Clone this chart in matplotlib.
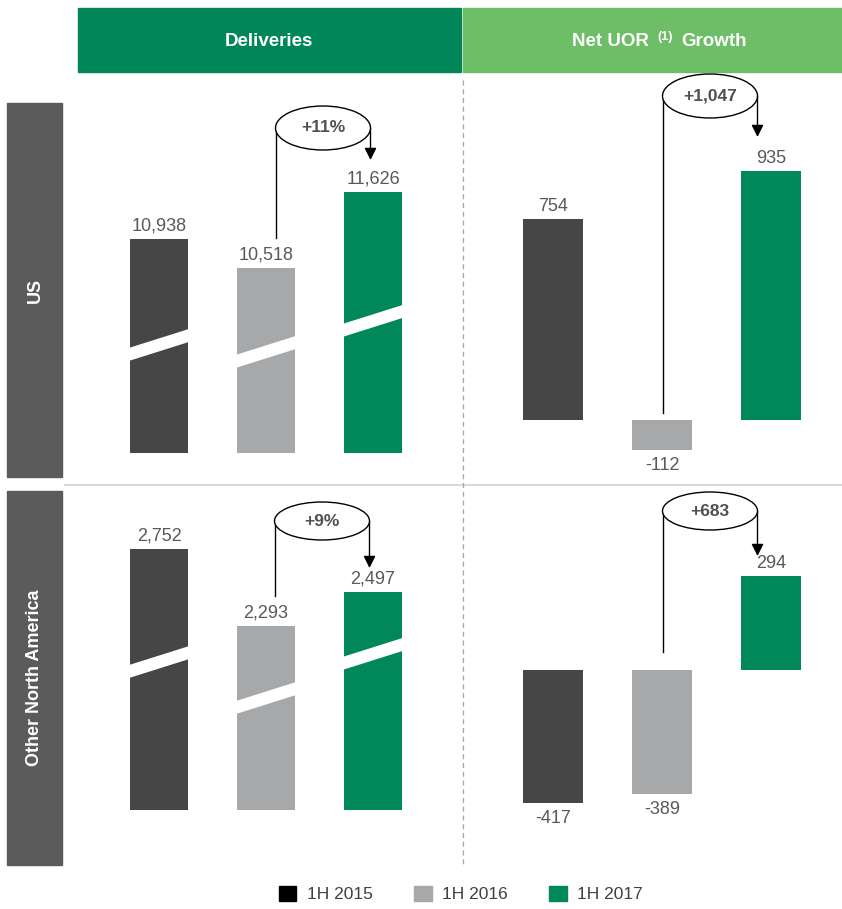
import matplotlib
matplotlib.use('Agg')
import matplotlib.pyplot as plt
import numpy as np
from matplotlib.patches import Rectangle, Ellipse, Polygon, Patch

plt.rcParams['font.family'] = ['Liberation Sans Narrow', 'Liberation Sans', 'DejaVu Sans']

# data
periods = ['1H 2015', '1H 2016', '1H 2017']
us_deliveries = [10938, 10518, 11626]
ona_deliveries = [2752, 2293, 2497]
us_uor = [754, -112, 935]
ona_uor = [-417, -389, 294]

bar_colors = ['#464646', '#a7a8aa', '#00875a']
legend_colors = ['#000000', '#a7a8aa', '#00875a']
label_color = '#595959'

W, H = 842, 909
fig = plt.figure(figsize=(W / 100, H / 100), dpi=100)

# overlay in pixel coordinates for the slide decoration
ov = fig.add_axes([0, 0, 1, 1])
ov.set_xlim(0, W)
ov.set_ylim(H, 0)
ov.axis('off')


def px_axes(x0, y0, x1, y1):
    ax = fig.add_axes([x0 / W, 1 - y1 / H, (x1 - x0) / W, (y1 - y0) / H])
    ax.axis('off')
    return ax


def panel(box, base_px, base_val, k, c0, step, width, vals, breaks=None):
    x0, y0, x1, y1 = box
    ax = px_axes(x0, y0, x1, y1)
    ax.set_xlim((x0 - c0) / step, (x1 - c0) / step)
    ax.set_ylim(base_val - (y1 - base_px) / k, base_val + (base_px - y0) / k)
    w = width / step
    idx = np.arange(len(vals))
    v = np.array(vals, dtype=float)
    ax.bar(idx, v - base_val, bottom=base_val, width=w, color=bar_colors)
    for i, val in enumerate(vals):
        if val >= 0:
            ax.annotate(f'{val:,}', (i, val), xytext=(0, 3), textcoords='offset points',
                        ha='center', va='bottom', fontsize=13, color=label_color)
        else:
            ax.annotate(f'{val:,}', (i, val), xytext=(0, -5), textcoords='offset points',
                        ha='center', va='top', fontsize=13, color=label_color)
    # axis break marks
    if breaks is not None:
        rise = 19 / k
        thick = 13 / k
        for i, f in enumerate(breaks):
            c = base_val + f * (vals[i] - base_val)
            xl, xr = i - w / 2 - 0.01, i + w / 2 + 0.01
            ax.add_patch(Polygon([(xl, c - rise / 2 - thick / 2), (xr, c + rise / 2 - thick / 2),
                                  (xr, c + rise / 2 + thick / 2), (xl, c - rise / 2 + thick / 2)],
                                 closed=True, facecolor='white', edgecolor='none', zorder=3))
    return ax


panel((78, 80, 461, 477), 453, 7818, 0.0686, 159, 107, 58, us_deliveries, [0.505, 0.546, 0.506])
panel((78, 490, 461, 865), 810, 1197, 0.1678, 159, 107, 58, ona_deliveries, [0.567, 0.609, 0.716])
panel((463, 80, 842, 477), 420, 0, 0.2663, 553, 109, 60, us_uor)
panel((463, 490, 842, 865), 670, 0, 0.3197, 553, 109, 60, ona_uor)

# headers
ov.add_patch(Rectangle((78, 8), 383, 64, color='#008659', zorder=1))
ov.add_patch(Rectangle((463, 8), 379, 64, color='#6dbe66', zorder=1))
ov.text(269, 41, 'Deliveries', ha='center', va='center', color='white',
        fontsize=13.5, fontweight='bold')
ov.text(649, 41, 'Net UOR', ha='right', va='center', color='white', fontsize=13.5, fontweight='bold')
ov.text(665, 37, '(1)', ha='center', va='center', color='white', fontsize=9, fontweight='bold')
ov.text(681, 41, 'Growth', ha='left', va='center', color='white', fontsize=13.5, fontweight='bold')

# row labels
ov.add_patch(Rectangle((7, 103), 55, 374, color='#5b5b5c'))
ov.add_patch(Rectangle((7, 491), 55, 374, color='#5b5b5c'))
ov.text(35, 290, 'US', rotation=90, ha='center', va='center', color='white',
        fontsize=13, fontweight='bold', family=['Liberation Sans', 'DejaVu Sans'])
ov.text(35, 678, 'Other North America', rotation=90, ha='center', va='center', color='white',
        fontsize=13, fontweight='bold', family=['Liberation Sans', 'DejaVu Sans'])

# separators
ov.plot([65, 842], [485, 485], color='#d9d9d9', lw=1.5)
ov.plot([463, 463], [80, 865], color='#a6a6a6', lw=0.9, dashes=(4, 3))


# growth callouts
def callout(x_start, y_start, cx, cy, ew, eh, y_end, text):
    ov.plot([x_start, x_start], [y_start, cy], color='black', lw=1)
    ov.add_patch(Ellipse((cx, cy), ew, eh, facecolor='white', edgecolor='black', lw=1, zorder=4))
    ov.annotate('', xy=(cx + ew / 2, y_end), xytext=(cx + ew / 2, cy),
                arrowprops=dict(arrowstyle='-|>', color='black', lw=1, mutation_scale=18,
                                shrinkA=0, shrinkB=0))
    ov.text(cx, cy, text, ha='center', va='center', fontsize=12.5, fontweight='bold',
            color='#505050', zorder=5)


pct_us = round((us_deliveries[2] / us_deliveries[1] - 1) * 100)
pct_ona = round((ona_deliveries[2] / ona_deliveries[1] - 1) * 100)
callout(276, 238, 323, 128, 95, 44, 160, f'+{pct_us}%')
callout(663, 413, 710, 96, 95, 44, 137, f'+{us_uor[2] - us_uor[1]:,}')
callout(275, 596, 322, 521, 95, 38, 568, f'+{pct_ona}%')
callout(663, 652, 710, 511, 95, 38, 556, f'+{ona_uor[2] - ona_uor[1]:,}')

# legend
handles = [Patch(color=c) for c in legend_colors]
leg = fig.legend(handles, periods, loc='center', bbox_to_anchor=(461 / W, 1 - 894 / H), ncol=3,
                 frameon=False, fontsize=12.5, handlelength=1.0, handleheight=1.0,
                 handletextpad=0.6, columnspacing=2.4)
for t in leg.get_texts():
    t.set_color('#404040')

fig.savefig('out.png', dpi=100)
